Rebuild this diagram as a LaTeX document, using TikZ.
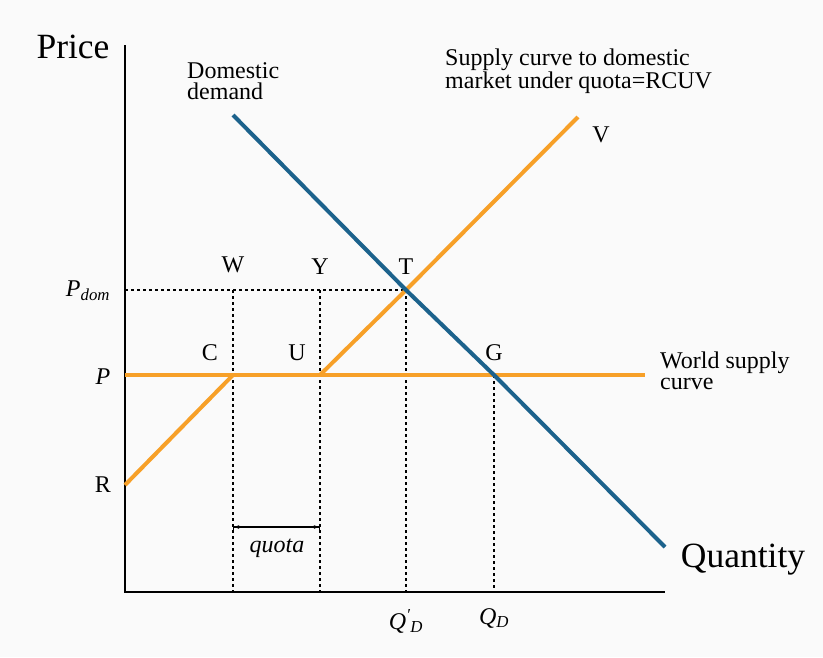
\documentclass[tikz,border=0pt]{standalone}
\usepackage{fontspec}
\setmainfont{Liberation Serif}
\usetikzlibrary{arrows.meta}
\definecolor{supplyorange}{RGB}{247,160,40}
\definecolor{demandblue}{RGB}{28,98,140}
\definecolor{paper}{RGB}{250,250,250}
\tikzset{
  curve/.style={line width=4pt},
  guide/.style={dash pattern=on 3pt off 3pt,line width=1.2pt},
  lbl/.style={font=\fontsize{24}{21}\selectfont,inner sep=0pt,align=left},
  big/.style={font=\fontsize{35.5}{36}\selectfont,inner sep=0pt},
}
\begin{document}
\begin{tikzpicture}[x=1pt,y=-1pt]
  \fill[paper] (0,0) rectangle (823,657);
  \useasboundingbox (0,0) rectangle (823,657);
  % points of the diagram
  \coordinate (O) at (125,592);
  \coordinate (top) at (125,45);
  \coordinate (right) at (665,592);
  \coordinate (R) at (125,485);
  \coordinate (Pw) at (125,375);
  \coordinate (Pd) at (125,290);
  \coordinate (C) at (233,375);
  \coordinate (U) at (320,375);
  \coordinate (T) at (406,290);
  \coordinate (G) at (494,375);
  \coordinate (V) at (578,117);
  \coordinate (W) at (233,290);
  \coordinate (Y) at (320,290);
  \coordinate (Wend) at (645,375);
  \coordinate (Dtop) at (233,115);
  \coordinate (Dbot) at (665,547);
  \coordinate (qa) at (233,527);
  \coordinate (qb) at (320,527);
  % axes
  \draw[line width=1.6pt] (top) -- (O) -- (right);
  % guides
  \draw[guide] (Pd) -- (T);
  \draw[guide] (W) -- (W |- O);
  \draw[guide] (Y) -- (Y |- O);
  \draw[guide] (T) -- (T |- O);
  \draw[guide] (G) -- (G |- O);
  \draw[line width=1.3pt,{Bar[width=7pt]Stealth[length=5pt]}-{Stealth[length=5pt]Bar[width=7pt]}] (qa) -- (qb);
  % curves
  \draw[curve,supplyorange] (Pw) -- (Wend);
  \draw[curve,supplyorange] (R) -- (C);
  \draw[curve,supplyorange] (U) -- (T) -- (V);
  \draw[curve,demandblue] (Dtop) -- (T) -- (G) -- (Dbot);
  % labels
  \node[big] (price) at (73,47) {Price};
  \node[big] (quantity) at (743,560) {Quantity};
  \node[lbl,anchor=north west] (dd) at (187,62) {Domestic\\demand};
  \node[lbl,anchor=north west] (sq) at (445,49) {Supply curve to domestic\\market under quota=RCUV};
  \node[lbl,anchor=north west] (ws) at (660,352) {World supply\\curve};
  \node[lbl] (lW) at (233,265) {W};
  \node[lbl] (lY) at (320,267) {Y};
  \node[lbl] (lT) at (406,267) {T};
  \node[lbl] (lC) at (210,353) {C};
  \node[lbl] (lU) at (297,353) {U};
  \node[lbl] (lG) at (494,353) {G};
  \node[lbl] (lV) at (601,135) {V};
  \node[lbl] (lR) at (103,485) {R};
  \node[lbl] (lP) at (103,377) {\textit{P}};
  \node[lbl] (lPd) at (88,291) {\textit{P\textsubscript{dom}}};
  \node[lbl] (lq) at (277,548) {\textit{quota}};
  \node[lbl] (lQd1) at (406,621) {\textit{Q\textsuperscript{\char"2032}\textsubscript{D}}};
  \node[lbl] (lQd) at (494,618) {\textit{Q\textsubscript{D}}};
\end{tikzpicture}
\end{document}
